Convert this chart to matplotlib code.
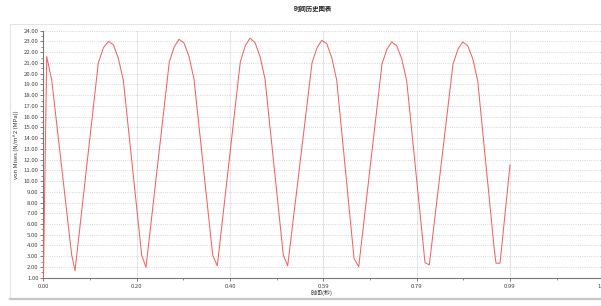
import numpy as np
import matplotlib
matplotlib.use('Agg')
import matplotlib.pyplot as plt
from matplotlib.patches import Rectangle
from matplotlib.ticker import FixedLocator, MultipleLocator

plt.rcParams['font.family'] = ['Noto Sans CJK SC', 'DejaVu Sans']

# time history (seconds, MPa)
time_s = [0.000, 0.007, 0.0176, 0.0599, 0.0669,
          0.1162, 0.1268, 0.1374, 0.1479, 0.1585, 0.1691, 0.2080, 0.2171,
          0.2665, 0.2770, 0.2870, 0.2976, 0.3081, 0.3187, 0.3583, 0.3680,
          0.4167, 0.4273, 0.4372, 0.4478, 0.4584, 0.4690, 0.5077, 0.5170,
          0.5685, 0.5790, 0.5890, 0.5996, 0.6102, 0.6207, 0.6574, 0.6673,
          0.7166, 0.7272, 0.7371, 0.7477, 0.7583, 0.7689, 0.8076, 0.8167,
          0.8669, 0.8775, 0.8874, 0.8980, 0.9086, 0.9192, 0.9543, 0.9579,
          0.9664, 0.9875]
von_mises = [1.0, 21.6, 19.4, 3.1, 1.65,
             21.0, 22.4, 23.0, 22.7, 21.45, 19.4, 3.1, 1.97,
             21.1, 22.5, 23.2, 22.85, 21.6, 19.5, 3.1, 2.1,
             21.1, 22.6, 23.3, 22.9, 21.6, 19.5, 3.1, 2.1,
             21.0, 22.4, 23.1, 22.8, 21.5, 19.4, 2.8, 2.02,
             20.9, 22.3, 22.95, 22.6, 21.4, 19.3, 2.4, 2.2,
             20.9, 22.3, 22.95, 22.6, 21.4, 19.3, 3.6, 2.35,
             2.35, 11.5]

x_ticks = [0.0, 0.1975, 0.395, 0.5925, 0.79, 0.9875, 1.185]
x_tick_labels = ['0.00', '0.20', '0.40', '0.59', '0.79', '0.99', '1.19']
y_ticks = list(range(1, 25))
y_tick_labels = ['%.2f' % v for v in y_ticks]

fig = plt.figure(figsize=(6.01, 3.06), dpi=100)

# light panel frame behind the chart
fig.patches.append(Rectangle((10 / 601, 7 / 306), 1.0, 275 / 306, transform=fig.transFigure,
                             facecolor='none', edgecolor='#e4e4e4', linewidth=0.8, zorder=-1))
fig.add_artist(plt.Line2D([10 / 601, 1.0], [7 / 306, 7 / 306], transform=fig.transFigure,
                          color='#c8c8c8', linewidth=1.6))

ax = fig.add_axes([43.4 / 601, 28.3 / 306, 562.3 / 601, 247 / 306])
ax.patch.set_alpha(0)
ax.plot(time_s, von_mises, color='#f06464', linewidth=0.75, zorder=3)

ax.set_xlim(0, 1.19)
ax.set_ylim(1, 24)

ax.set_xticks(x_ticks)
ax.set_xticklabels(x_tick_labels)
ax.xaxis.set_minor_locator(FixedLocator([t + 0.09875 for t in x_ticks]))
ax.set_yticks(y_ticks)
ax.set_yticklabels(y_tick_labels)
ax.yaxis.set_minor_locator(MultipleLocator(0.5))

ax.tick_params(axis='both', which='major', labelsize=4.3, length=2.5, width=0.6,
               color='#666666', labelcolor='#444444', pad=1)
ax.tick_params(axis='x', which='major', pad=2)
ax.tick_params(axis='both', which='minor', length=1.5, width=0.5, color='#666666')

ax.grid(axis='y', which='major', linestyle=':', color='#c8c8c8', linewidth=0.6)
ax.grid(axis='x', which='major', linestyle='-', color='#e0e0e0', linewidth=0.6)

for side in ['top', 'right']:
    ax.spines[side].set_visible(False)
for side in ['left', 'bottom']:
    ax.spines[side].set_color('#777777')
    ax.spines[side].set_linewidth(0.8)

fig.text(313 / 601, 1 - 9 / 306, '时间历史图表', ha='center', va='center',
         fontsize=4.6, fontweight='bold', color='#222222')
fig.text(322 / 601, 1 - 293 / 306, '时间(秒)', ha='center', va='center',
         fontsize=4.3, color='#333333')
fig.text(16 / 601, 1 - 145 / 306, 'von Mises (N/m^2 (MPa))', ha='center', va='center',
         rotation=90, fontsize=4.3, color='#333333')

fig.savefig('out.png', dpi=100)
